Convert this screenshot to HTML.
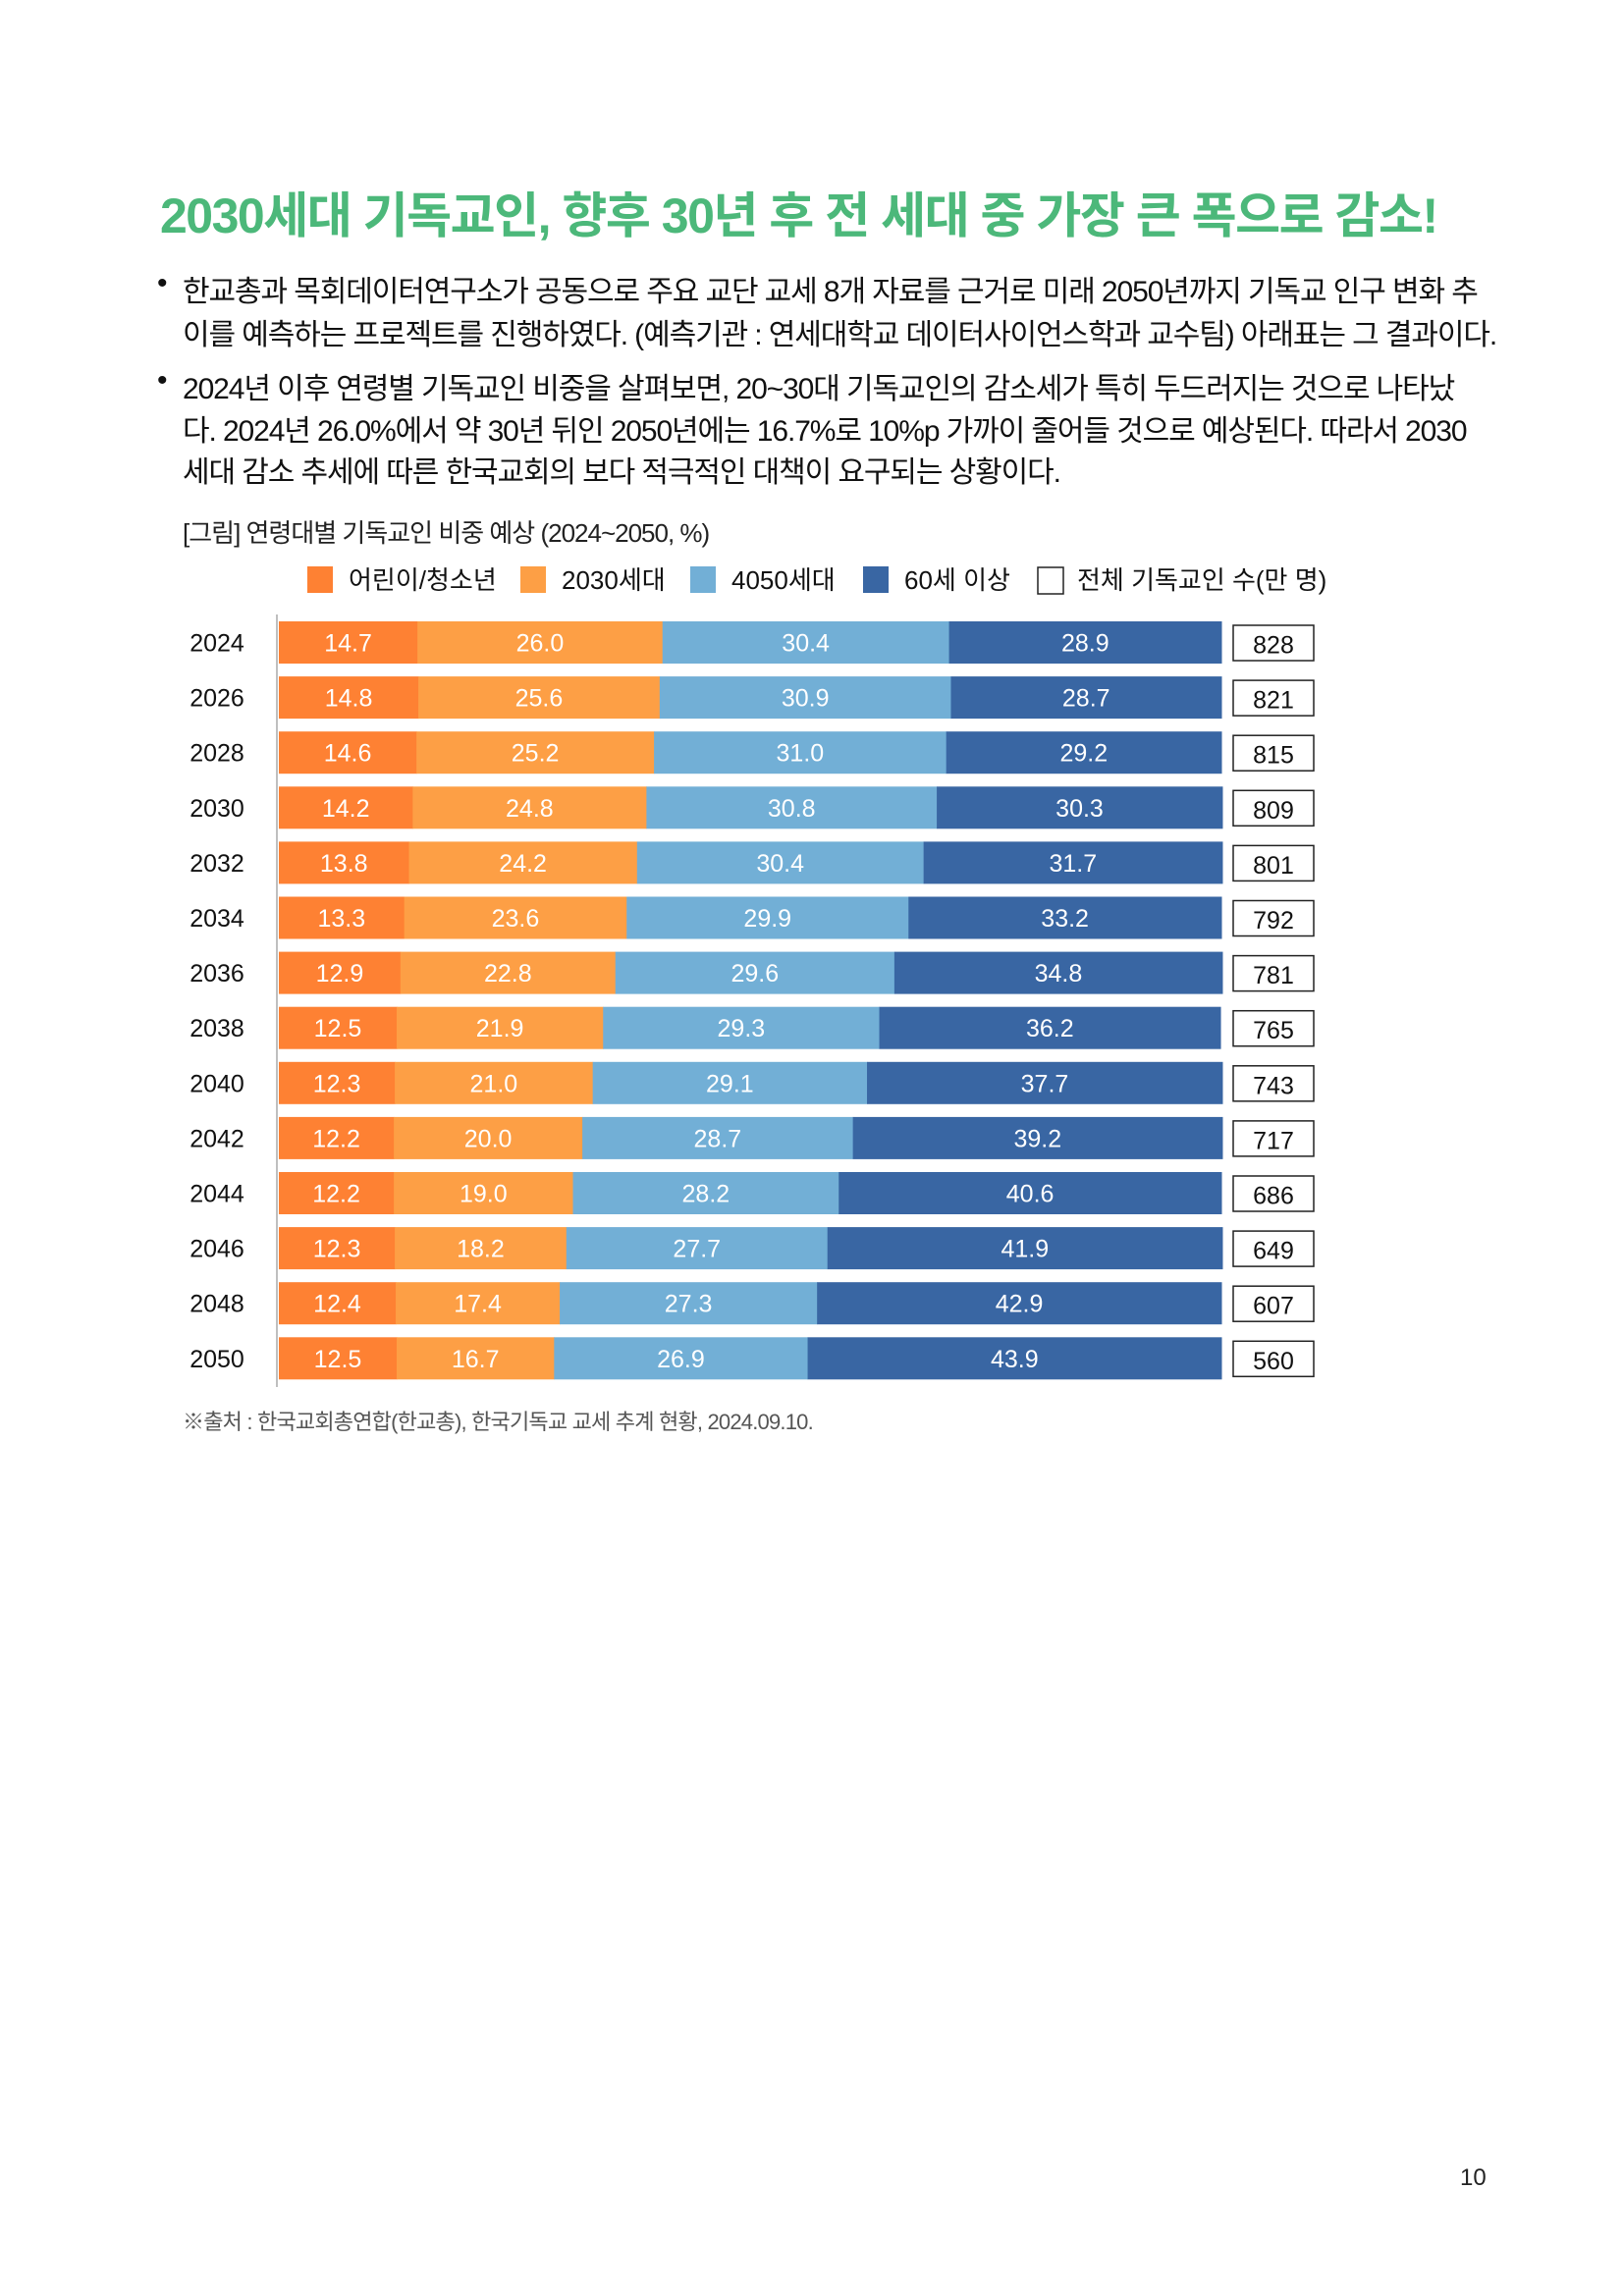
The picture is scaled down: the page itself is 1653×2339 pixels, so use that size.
<!DOCTYPE html>
<html><head><meta charset="utf-8"><style>
body{margin:0;background:#fff;}
#page{position:relative;width:1653px;height:2339px;font-family:"Liberation Sans","Noto Sans CJK KR",sans-serif;color:#111;overflow:hidden}
.t{position:absolute;white-space:nowrap}
</style></head><body>
<div id="page">
<div class="t" style="left:163px;top:180px;font-size:50px;font-weight:bold;color:#4cb87a;letter-spacing:-1.5px">2030세대 기독교인, 향후 30년 후 전 세대 중 가장 큰 폭으로 감소!</div>
<div>
<div class="t" style="left:160px;top:272px;font-size:30px">•</div>
<div class="t" style="left:186px;top:272px;font-size:30px;letter-spacing:-1.1px">한교총과 목회데이터연구소가 공동으로 주요 교단 교세 8개 자료를 근거로 미래 2050년까지 기독교 인구 변화 추</div>
<div class="t" style="left:186px;top:316px;font-size:30px;letter-spacing:-1.1px">이를 예측하는 프로젝트를 진행하였다. (예측기관 : 연세대학교 데이터사이언스학과 교수팀) 아래표는 그 결과이다.</div>
</div>
<div>
<div class="t" style="left:160px;top:371px;font-size:30px">•</div>
<div class="t" style="left:186px;top:371px;font-size:30px;letter-spacing:-1.1px">2024년 이후 연령별 기독교인 비중을 살펴보면, 20~30대 기독교인의 감소세가 특히 두드러지는 것으로 나타났</div>
<div class="t" style="left:186px;top:414px;font-size:30px;letter-spacing:-1.1px">다. 2024년 26.0%에서 약 30년 뒤인 2050년에는 16.7%로 10%p 가까이 줄어들 것으로 예상된다. 따라서 2030</div>
<div class="t" style="left:186px;top:456px;font-size:30px;letter-spacing:-1.1px">세대 감소 추세에 따른 한국교회의 보다 적극적인 대책이 요구되는 상황이다.</div>
</div>
<div class="t" style="left:186px;top:523px;font-size:26px;letter-spacing:-1px;color:#222">[그림] 연령대별 기독교인 비중 예상 (2024~2050, %)</div>
<svg id="chart" width="1653" height="1500" style="position:absolute;left:0;top:0" font-family="Liberation Sans, Noto Sans CJK KR, sans-serif"></svg>
<div class="t" style="left:186px;top:1431px;font-size:22px;color:#555;letter-spacing:-0.8px">※출처 : 한국교회총연합(한교총), 한국기독교 교세 추계 현황, 2024.09.10.</div>
<div class="t" style="left:1487px;top:2205px;font-size:24px;color:#222">10</div>
</div>
<script>
const years=["2024","2026","2028","2030","2032","2034","2036","2038","2040","2042","2044","2046","2048","2050"];
const youth=[14.7,14.8,14.6,14.2,13.8,13.3,12.9,12.5,12.3,12.2,12.2,12.3,12.4,12.5];
const gen2030=[26.0,25.6,25.2,24.8,24.2,23.6,22.8,21.9,21.0,20.0,19.0,18.2,17.4,16.7];
const gen4050=[30.4,30.9,31.0,30.8,30.4,29.9,29.6,29.3,29.1,28.7,28.2,27.7,27.3,26.9];
const gen60=[28.9,28.7,29.2,30.3,31.7,33.2,34.8,36.2,37.7,39.2,40.6,41.9,42.9,43.9];
const totals=[828,821,815,809,801,792,781,765,743,717,686,649,607,560];
const seriesNames=["어린이/청소년","2030세대","4050세대","60세 이상"];
const colors=["#fe8133","#fd9f45","#72afd6","#3966a3"];
const series=[youth,gen2030,gen4050,gen60];
const NS="http://www.w3.org/2000/svg";
const svg=document.getElementById('chart');
const x0=284,x1=1244,y0=633,pitch=56.1,bh=43;
const xs=v=>(v/100)*(x1-x0);
const yRow=i=>y0+i*pitch;
function mk(t,a){const e=document.createElementNS(NS,t);for(const k in a)e.setAttribute(k,a[k]);svg.appendChild(e);return e;}
// legend
const lx=[313,530,703,879,1055];
seriesNames.forEach((n,k)=>{
 const r=mk('rect',{x:lx[k],y:577,width:26,height:27,fill:colors[k]});
 
 
 const t=mk('text',{x:lx[k]+42,y:600,'font-size':26,fill:'#111'});t.textContent=n;
 
 
});
const lb=mk('rect',{x:1057,y:578,width:26,height:27,fill:'#fff',stroke:'#222','stroke-width':1.5});


const lt=mk('text',{x:1097,y:600,'font-size':26,fill:'#111'});lt.textContent="전체 기독교인 수(만 명)";


// axis
const ax=mk('line',{x1:282,x2:282,y1:626,y2:1413,stroke:'#aaa','stroke-width':1.5});


years.forEach((yr,i)=>{
 const yt=yRow(i);
 const t=mk('text',{x:221,y:yt+bh/2+9,'font-size':25,'text-anchor':'middle',fill:'#111'});t.textContent=yr;
 
 
 let cx=x0;
 series.forEach((s,k)=>{
  const w=xs(s[i]);
  const r=mk('rect',{x:cx,y:yt,width:w+0.5,height:bh,fill:colors[k]});
  
  
  const v=mk('text',{x:cx+w/2,y:yt+bh/2+9,'font-size':25,'text-anchor':'middle',fill:'#fff'});v.textContent=s[i].toFixed(1);
  
  
  cx+=w;
 });
 const b=mk('rect',{x:1256,y:yt+4,width:82,height:36,fill:'#fff',stroke:'#222','stroke-width':1.5});
 
 
 const tt=mk('text',{x:1297,y:yt+bh/2+11,'font-size':25,'text-anchor':'middle',fill:'#111'});tt.textContent=totals[i];
 
 
});
</script>
</body></html>
